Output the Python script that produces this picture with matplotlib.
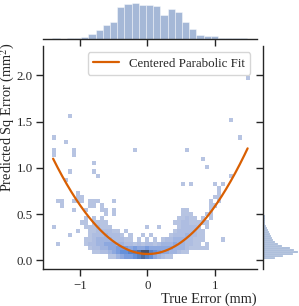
import numpy as np
import matplotlib
matplotlib.use("Agg")
import matplotlib.pyplot as plt
import seaborn as sns

# ---------------- data ----------------
# joint 2D histogram (bin grid)
x_bin_start, x_bin_width, n_x_bins = -1.42, 0.06, 49
y_bin_start, y_bin_width, n_y_bins = 0.018, 0.046, 48

# count per level character
level_counts = {'.': 0, '1': 1, '2': 3, '3': 6, '4': 10, '5': 14,
                '6': 18, '7': 23, '8': 30, '9': 40}

band_rows = [0, 1, 2, 3, 4, 5, 6, 7, 8, 9, 10, 11, 12, 13]
band_first_col = [14, 10, 9, 1, 8, 4, 6, 0, 7, 8, 13, 5, 2, 1]
band_levels = [
    "1134556787643211",
    "112234566778997654433211",
    "122334455545445444444333211111",
    "1......" + "12233444" + "33221212" + "21233343" + "32211.1",
    "11233332" + "2211.1.1" + ".1.12233" + "322111....1",
    "1...." + "12223222" + "1.1..1.1" + "....1222" + "32211",
    "1..11222" + "211.1..." + "........" + "12222211",
    "1......." + "1112111." + ".......1" + "..1....1" + "22221.1",
    "11.1111." + "........" + ".......1" + "12211111",
    "1.1.1..." + "........" + ".......1" + "1211.1.1",
    "1.1....." + "........" + "...111.." + ".11",
    "1..1...1" + "1.1....." + "........" + "...11..." + "..1",
    "1......1" + "1.1....." + "........" + "........" + ".....11",
    "11..111." + "111...1." + "........" + "........" + "......1.1",
]

# isolated single-count cells (x, y)
out_x = [-1.03, -0.97, 1.01, 1.07, -1.03, 1.07, 1.07, 0.53, 0.65, 1.01, 1.13,
         -1.21, -0.73, 1.25, -1.15, -0.79, 0.89, -0.79, 0.83, -1.39, -1.09,
         -1.39, -1.09, -0.19, 0.59, -1.21, -1.39, 1.37, 1.25, -1.15, 1.49]
out_y = [0.69, 0.69, 0.69, 0.69, 0.73, 0.73, 0.78, 0.82, 0.82, 0.82, 0.82,
         0.87, 0.91, 0.91, 0.96, 0.96, 1.01, 1.05, 1.10, 1.14, 1.14,
         1.18, 1.18, 1.18, 1.18, 1.28, 1.33, 1.33, 1.52, 1.56, 1.96]

# marginal histogram of x (True Error)
margx_start, margx_width = -1.41, 0.107
margx_counts = [1.5, 0.5, 2, 3, 6, 13, 26, 40, 51, 94, 103, 106, 101, 100,
                97, 71, 90, 79, 49, 30, 11, 8, 8, 3, 1, 1, 1]

# marginal histogram of y (Predicted Sq Error)
margy_start, margy_width = 0.017, 0.0216
margy_counts = [36, 60, 90, 105, 93, 81, 57, 45, 36, 30, 27, 24, 21, 16, 13,
                11, 8, 6, 5, 5, 4, 4, 3, 3, 3, 2, 3, 2, 2, 2, 2, 1, 2, 1, 1,
                1, 1, 1, 1, 1, 1, 0, 1, 1, 0, 1, 0, 2, 0, 0, 0, 1, 0, 0, 0,
                1, 0, 1, 0, 0, 0, 1, 0, 0, 0, 0, 0, 0, 0, 0, 0, 0, 0, 0, 0,
                0, 0, 0, 0, 0, 0, 0, 0, 0, 0, 0, 1]

# centered parabolic fit: y = curv * (x - center)^2 + offset
fit_center, fit_curv, fit_offset = 0.008, 0.52, 0.068
fit_xmin, fit_xmax = -1.40, 1.49

x_ticks = [-1, 0, 1]
y_ticks = [0.0, 0.5, 1.0, 1.5, 2.0]

# ---------------- build arrays ----------------
xs, ys, ws = [], [], []
for r, c0, lv in zip(band_rows, band_first_col, band_levels):
    for k, ch in enumerate(lv):
        if ch != '.':
            xs.append(x_bin_start + (c0 + k + 0.5) * x_bin_width)
            ys.append(y_bin_start + (r + 0.5) * y_bin_width)
            ws.append(level_counts[ch])
xs += out_x
ys += out_y
ws += [1] * len(out_x)
xs, ys, ws = map(np.asarray, (xs, ys, ws))

x_edges = x_bin_start + x_bin_width * np.arange(n_x_bins + 1)
y_edges = y_bin_start + y_bin_width * np.arange(n_y_bins + 1)

mx_edges = margx_start + margx_width * np.arange(len(margx_counts) + 1)
mx_centers = 0.5 * (mx_edges[:-1] + mx_edges[1:])
my_edges = margy_start + margy_width * np.arange(len(margy_counts) + 1)
my_centers = 0.5 * (my_edges[:-1] + my_edges[1:])

# ---------------- style ----------------
sns.set_style("ticks")
plt.rcParams['font.family'] = ['Liberation Serif', 'DejaVu Serif']
plt.rcParams['mathtext.fontset'] = 'stix'
plt.rcParams['axes.linewidth'] = 1.0
plt.rcParams['xtick.major.width'] = 1.0
plt.rcParams['ytick.major.width'] = 1.0
plt.rcParams['xtick.major.size'] = 4.8
plt.rcParams['ytick.major.size'] = 4.8
plt.rcParams['xtick.major.pad'] = 3.0
plt.rcParams['ytick.major.pad'] = 2.5
plt.rcParams['axes.unicode_minus'] = True

color = "#4c72b0"
fs = 9.3
fs_lab = 10.4

fig = plt.figure(figsize=(2.99, 3.06), dpi=100)
W, H = 299.0, 306.0
ax = fig.add_axes([43 / W, 1 - 268.7 / H, (256.7 - 43) / W, (268.7 - 46) / H])
ax_mx = fig.add_axes([43 / W, 1 - 38.7 / H, (256.7 - 43) / W, 38.7 / H], sharex=ax)
ax_my = fig.add_axes([263.3 / W, 1 - 268.7 / H, (W - 263.3) / W, (268.7 - 46) / H], sharey=ax)

# joint
sns.histplot(x=xs, y=ys, weights=ws, bins=[x_edges, y_edges], color=color, ax=ax)

xf = np.linspace(fit_xmin, fit_xmax, 300)
yf = fit_curv * (xf - fit_center) ** 2 + fit_offset
ax.plot(xf, yf, color="#d95f02", lw=1.6, label="Centered Parabolic Fit")

ax.set_xlim(-1.55, 1.625)
ax.set_ylim(-0.091, 2.317)
ax.set_xticks(x_ticks)
ax.set_yticks(y_ticks)
ax.set_xticklabels([f"{t:d}".replace("-", "\u2212") for t in x_ticks], fontsize=fs)
ax.set_yticklabels([f"{t:.1f}" for t in y_ticks], fontsize=fs)
ax.set_xlabel("True Error (mm)", fontsize=fs_lab, loc="right", labelpad=1)
ax.set_ylabel("Predicted Sq Error (mm$^2$)", fontsize=fs_lab, loc="top")
ax.yaxis.set_label_coords(-0.122, 1.015)
sns.despine(ax=ax)
leg = ax.legend(loc="upper right", fontsize=fs, frameon=True)

# marginal x
ax_mx.hist(mx_centers, bins=mx_edges, weights=margx_counts, color=color,
           alpha=0.5, edgecolor="white", linewidth=0.6)
ax_mx.set_ylim(0, 116)
ax_mx.tick_params(axis="x", labelbottom=False)
ax_mx.tick_params(axis="y", left=False, labelleft=False)
sns.despine(ax=ax_mx, left=True)

# marginal y
ax_my.hist(my_centers, bins=my_edges, weights=margy_counts, color=color,
           alpha=0.5, edgecolor="white", linewidth=0.3, orientation="horizontal")
ax_my.set_xlim(0, 107)
ax_my.tick_params(axis="y", labelleft=False)
ax_my.tick_params(axis="x", bottom=False, labelbottom=False)
sns.despine(ax=ax_my, bottom=True)

fig.savefig("out.png", dpi=100)
